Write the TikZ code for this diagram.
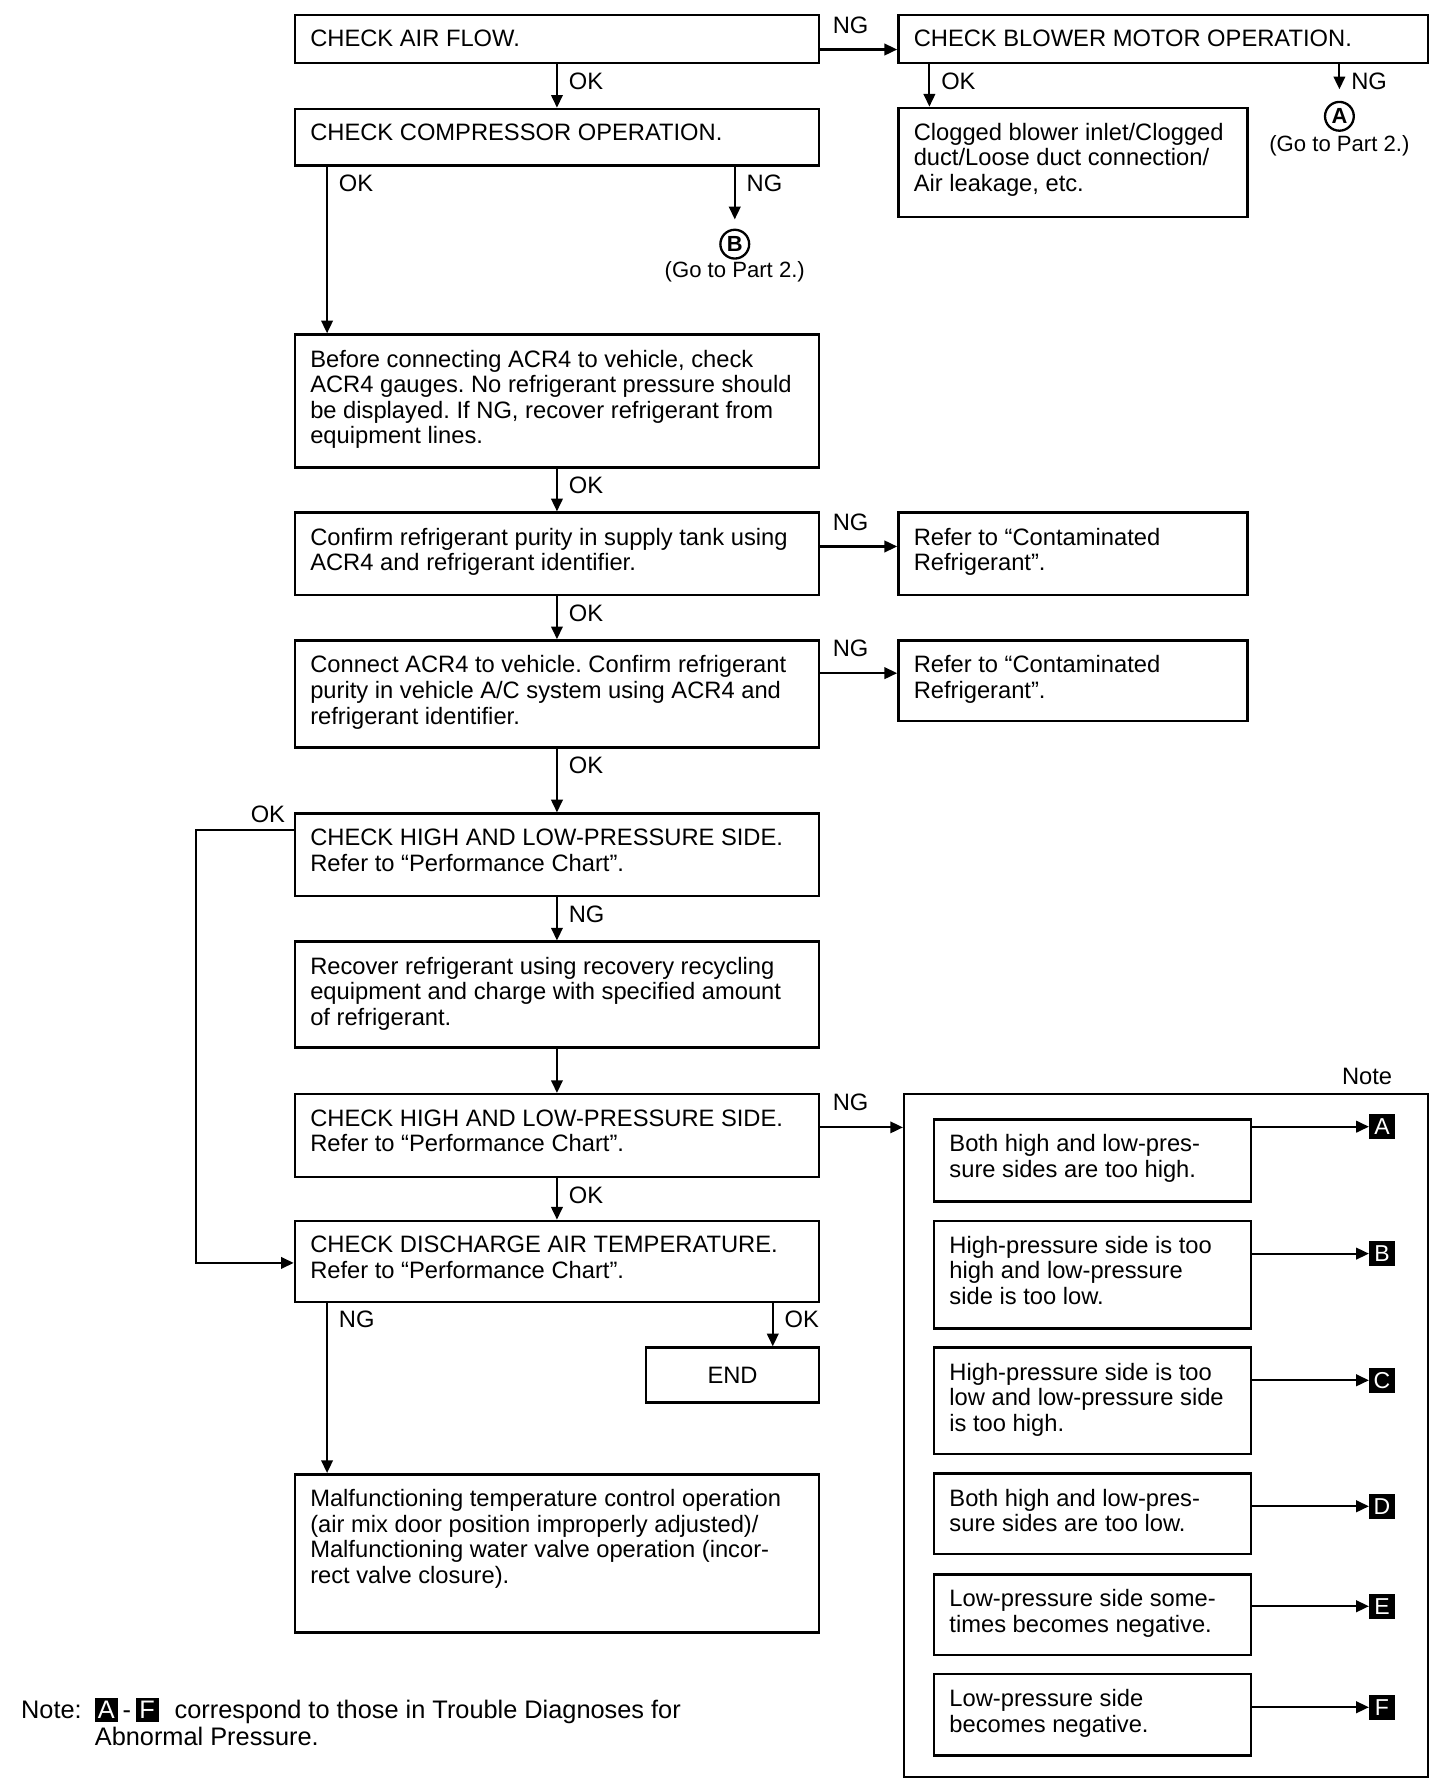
\documentclass[tikz,border=0pt]{standalone}
\usepackage{fontspec}
\setmainfont{Liberation Sans}
\usetikzlibrary{arrows.meta}
\frenchspacing
\newcommand{\flowbox}[6]{%
  \node[bx, minimum width=(#4-#2)*0.5pt, minimum height=(#5-#3)*0.5pt] (#1) at (#2,#3) {};
  \node[tx] (#1t) at ([xshift=7pt,yshift=-7pt]#1.north west) {#6};}
\newcommand{\lbx}[1]{{\setlength{\fboxsep}{0pt}\colorbox{black}{\makebox[10pt]{\rule[-1.6pt]{0pt}{10.4pt}\textcolor{white}{#1}}}}}
\begin{document}
\begin{tikzpicture}[x=0.5pt,y=-0.5pt,
  bx/.style={draw, line width=1.1pt, inner sep=0pt, anchor=north west},
  tx/.style={anchor=north west, inner sep=0pt, align=left, font=\fontsize{10.3}{11.1}\selectfont},
  ar/.style={line width=0.9pt, -{Triangle[length=5.5pt,width=5pt]}},
  lb/.style={font=\fontsize{10.3}{11.1}\selectfont, inner sep=0pt},
  vl/.style={lb, anchor=west, xshift=4.7pt, yshift=-7.25pt},
  hl/.style={lb, anchor=south west, xshift=5pt, yshift=6.6pt},
  circ/.style={circle, draw, line width=1pt, inner sep=0pt, minimum size=12.5pt, font=\bfseries\fontsize{9.5}{9.5}\selectfont},
  gt/.style={inner sep=0pt, font=\fontsize{9.6}{10}\selectfont},
  lbox/.style={fill=black, text=white, inner sep=0pt, minimum size=11pt, font=\fontsize{10}{10}\selectfont}]
\fill[white] (0,0) rectangle (1264,1556);
\useasboundingbox (0,0) rectangle (1264,1556);

% main column
\flowbox{b1}{255}{12}{710}{53.5}{CHECK AIR FLOW.}
\flowbox{b2}{779}{12}{1239}{53.5}{CHECK BLOWER MOTOR OPERATION.}
\flowbox{b3}{255}{93.5}{710}{142.4}{CHECK COMPRESSOR OPERATION.}
\flowbox{clog}{779}{92.6}{1082}{187.2}{Clogged blower inlet/Clogged\\duct/Loose duct connection/\\Air leakage, etc.}
\flowbox{b4}{255}{289.4}{710}{405}{Before connecting ACR4 to vehicle, check\\ACR4 gauges. No refrigerant pressure should\\be displayed. If NG, recover refrigerant from\\equipment lines.}
\flowbox{b5}{255}{444}{710}{515.7}{Confirm refrigerant purity in supply tank using\\ACR4 and refrigerant identifier.}
\flowbox{r1}{779}{444}{1082}{515.7}{Refer to “Contaminated\\Refrigerant”.}
\flowbox{b6}{255}{555}{710}{648}{Connect ACR4 to vehicle. Confirm refrigerant\\purity in vehicle A/C system using ACR4 and\\refrigerant identifier.}
\flowbox{r2}{779}{555}{1082}{625}{Refer to “Contaminated\\Refrigerant”.}
\flowbox{b7}{255}{705.4}{710}{777}{CHECK HIGH AND LOW-PRESSURE SIDE.\\Refer to “Performance Chart”.}
\flowbox{b8}{255}{816.6}{710}{908.6}{Recover refrigerant using recovery recycling\\equipment and charge with specified amount\\of refrigerant.}
\flowbox{b9}{255}{949}{710}{1020.8}{CHECK HIGH AND LOW-PRESSURE SIDE.\\Refer to “Performance Chart”.}
\flowbox{b10}{255}{1059}{710}{1129.3}{CHECK DISCHARGE AIR TEMPERATURE.\\Refer to “Performance Chart”.}
\node[bx, minimum width=75pt, minimum height=23.9pt, font=\fontsize{10.3}{11.1}\selectfont] (endb) at (560,1169) {END};
\flowbox{b11}{255}{1279}{710}{1416.4}{Malfunctioning temperature control operation\\(air mix door position improperly adjusted)/\\Malfunctioning water valve operation (incor-\\rect valve closure).}

% go-to markers
\node[circ] (cA) at (1163,101) {A};
\node[gt] (gA) at (1163,127) {(Go to Part 2.)};
\node[circ] (cB) at (638,212) {B};
\node[gt] (gB) at (638,236) {(Go to Part 2.)};

% note panel
\node[bx, minimum width=(1239-784)*0.5pt, minimum height=(1541.7-949)*0.5pt] (nb) at (784,949) {};
\node[lb, anchor=south east] (notel) at ([xshift=-16pt,yshift=3.3pt]nb.north east) {Note};
\flowbox{nA}{810}{970.8}{1085}{1042.3}{Both high and low-pres-\\sure sides are too high.}
\flowbox{nB}{810}{1059}{1085}{1152.2}{High-pressure side is too\\high and low-pressure\\side is too low.}
\flowbox{nC}{810}{1169}{1085}{1261.6}{High-pressure side is too\\low and low-pressure side\\is too high.}
\flowbox{nD}{810}{1278.4}{1085}{1348.4}{Both high and low-pres-\\sure sides are too low.}
\flowbox{nE}{810}{1365.8}{1085}{1435.8}{Low-pressure side some-\\times becomes negative.}
\flowbox{nF}{810}{1452.5}{1085}{1523.4}{Low-pressure side\\becomes negative.}
\node[lbox] (LA) at (1200,978.3) {A};
\node[lbox] (LB) at (1200,1088.5) {B};
\node[lbox] (LC) at (1200,1198.5) {C};
\node[lbox] (LD) at (1200,1307.9) {D};
\node[lbox] (LE) at (1200,1394.7) {E};
\node[lbox] (LF) at (1200,1482.4) {F};
\foreach \n in {A,B,C,D,E,F}{\draw[ar] (n\n.east |- L\n) -- (L\n.west);}

% connectors
\coordinate (yab) at (0,43);
\draw[ar] (b1.east |- yab) node[hl]{NG} -- (b2.west |- yab);
\draw[ar] (b1.south) node[vl]{OK} -- (b3.north);
\coordinate (x2ok) at (807,0);
\draw[ar] (b2.south -| x2ok) node[vl]{OK} -- (clog.north -| x2ok);
\draw[ar, shorten >=5pt] (b2.south -| cA) node[vl]{NG} -- (cA.north);
\coordinate (x3ok) at (284,0);
\draw[ar] (b3.south -| x3ok) node[vl]{OK} -- (b4.north -| x3ok);
\draw[ar, shorten >=4pt] (b3.south -| cB) node[vl]{NG} -- (cB.north);
\draw[ar] (b4.south) node[vl]{OK} -- (b5.north);
\coordinate (y5) at (0,474.5);
\draw[ar] (b5.east |- y5) node[hl]{NG} -- (r1.west |- y5);
\draw[ar] (b5.south) node[vl]{OK} -- (b6.north);
\coordinate (y6) at (0,584.5);
\draw[ar] (b6.east |- y6) node[hl]{NG} -- (r2.west |- y6);
\draw[ar] (b6.south) node[vl]{OK} -- (b7.north);
\coordinate (lx) at (170,0);
\coordinate (y7) at (0,720.5);
\coordinate (y10) at (0,1096.6);
\draw[ar] (b7.west |- y7) node[lb, anchor=south east, xshift=-3.3pt, yshift=2.8pt]{OK} -- (lx |- y7) -- (lx |- y10) -- (b10.west |- y10);
\draw[ar] (b7.south) node[vl]{NG} -- (b8.north);
\draw[ar] (b8.south) -- (b9.north);
\coordinate (y9) at (0,978.9);
\draw[ar] (b9.east |- y9) node[hl]{NG} -- (nb.west |- y9);
\draw[ar] (b9.south) node[vl]{OK} -- (b10.north);
\draw[ar] (b10.south -| x3ok) node[vl]{NG} -- (b11.north -| x3ok);
\coordinate (xend) at (671,0);
\draw[ar] (b10.south -| xend) node[vl]{OK} -- (endb.north -| xend);

% bottom note
\node[inner sep=0pt, anchor=base west, font=\fontsize{11}{11.5}\selectfont] (nt1) at (18,1491.9) {Note:};
\node[inner sep=0pt, anchor=north west, align=left, font=\fontsize{11}{11.5}\selectfont] (nt2) at (82,1474.3) {\lbx{A}\hspace{2pt}-\hspace{2pt}\lbx{F}\hspace{7pt}correspond to those in Trouble Diagnoses for\\Abnormal Pressure.};
\end{tikzpicture}
\end{document}
